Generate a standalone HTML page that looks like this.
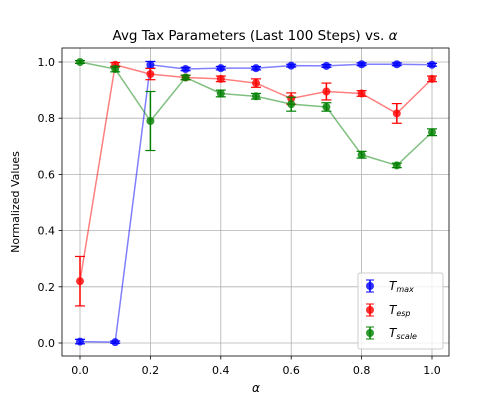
<!DOCTYPE html>
<html><head><meta charset="utf-8"><style>
body{margin:0;background:#fff;}
svg{font-family:"DejaVu Sans","Liberation Sans",sans-serif;}
</style></head><body>
<svg id="chart" width="500" height="400" viewBox="0 0 500 400"></svg>
<script>
const alphas=[0,0.1,0.2,0.3,0.4,0.5,0.6,0.7,0.8,0.9,1.0];
const tmax=[0.005,0.003,0.99,0.975,0.978,0.978,0.987,0.986,0.992,0.992,0.99];
const tmaxErr=[0.008,0.004,0.012,0.006,0.006,0.006,0.005,0.005,0.005,0.005,0.005];
const tesp=[0.22,0.99,0.957,0.945,0.94,0.925,0.87,0.895,0.888,0.817,0.94];
const tespErr=[0.088,0.008,0.02,0.008,0.01,0.015,0.02,0.03,0.01,0.035,0.01];
const tscale=[1.0,0.975,0.79,0.945,0.888,0.878,0.85,0.84,0.67,0.632,0.75];
const tscaleErr=[0.005,0.01,0.105,0.008,0.012,0.01,0.025,0.015,0.012,0.008,0.012];
const xTicks=[0,0.2,0.4,0.6,0.8,1.0];
const yTicks=[0,0.2,0.4,0.6,0.8,1.0];

const NS="http://www.w3.org/2000/svg";
const svg=document.getElementById('chart');
const L=62,R=449,T=48,B=356;
const xs=v=>80+v*352;
const ys=v=>343-v*281;
function mk(tag,attrs,parent){const e=document.createElementNS(NS,tag);for(const k in attrs)e.setAttribute(k,attrs[k]);(parent||svg).appendChild(e);return e;}

const grid=mk('g',{});


xTicks.forEach(t=>{
  mk('line',{x1:xs(t),x2:xs(t),y1:T,y2:B,stroke:'#b0b0b0','stroke-width':0.8},grid);
  mk('line',{x1:xs(t),x2:xs(t),y1:B,y2:B+3.5,stroke:'#000','stroke-width':0.8});
  const tx=mk('text',{x:xs(t),y:B+18,'text-anchor':'middle','font-size':11});
  tx.textContent=t.toFixed(1);
  
  
});
yTicks.forEach(t=>{
  mk('line',{x1:L,x2:R,y1:ys(t),y2:ys(t),stroke:'#b0b0b0','stroke-width':0.8},grid);
  mk('line',{x1:L-3.5,x2:L,y1:ys(t),y2:ys(t),stroke:'#000','stroke-width':0.8});
  const tx=mk('text',{x:L-7,y:ys(t)+4,'text-anchor':'end','font-size':11});
  tx.textContent=t.toFixed(1);
  
  
});

function series(vals,errs,color,name){
  const g=mk('g',{});
  
  
  mk('polyline',{points:alphas.map((a,i)=>xs(a)+','+ys(vals[i])).join(' '),fill:'none',stroke:color,'stroke-opacity':0.5,'stroke-width':1.5},g);
  alphas.forEach((a,i)=>{
    const x=xs(a),y1=ys(vals[i]-errs[i]),y2=ys(vals[i]+errs[i]);
    mk('line',{x1:x,x2:x,y1:y1,y2:y2,stroke:color,'stroke-width':1.5},g);
    mk('line',{x1:x-5,x2:x+5,y1:y1,y2:y1,stroke:color,'stroke-width':1.2},g);
    mk('line',{x1:x-5,x2:x+5,y1:y2,y2:y2,stroke:color,'stroke-width':1.2},g);
    const c=mk('circle',{cx:x,cy:ys(vals[i]),r:4,fill:color,'fill-opacity':0.8},g);
    
    
  });
}
series(tmax,tmaxErr,'#0000ff','series-tmax');
series(tesp,tespErr,'#ff0000','series-tesp');
series(tscale,tscaleErr,'#008000','series-tscale');

mk('rect',{x:L,y:T,width:R-L,height:B-T,fill:'none',stroke:'#000','stroke-width':0.8});
</script>
<svg width="500" height="400" style="position:absolute;left:0;top:0">
<text x="255" y="40" text-anchor="middle" font-size="13.5">Avg Tax Parameters (Last 100 Steps) vs. <tspan font-style="italic">α</tspan></text>
<text x="256" y="392" text-anchor="middle" font-size="12" font-style="italic">α</text>
<text x="19" y="202" text-anchor="middle" font-size="11" transform="rotate(-90 19 202)">Normalized Values</text>
<g>
<rect x="358" y="273" width="85" height="76" rx="2" fill="#fff" fill-opacity="0.8" stroke="#ccc"/>
<g>
<line x1="370" x2="370" y1="280" y2="292" stroke="#0000ff" stroke-width="1.5"/><line x1="366" x2="374" y1="280" y2="280" stroke="#0000ff"/><line x1="366" x2="374" y1="292" y2="292" stroke="#0000ff"/><circle cx="370" cy="286" r="4" fill="#0000ff" fill-opacity="0.8"/>
<text x="389" y="290" font-size="12" font-style="italic">T<tspan font-size="8" dy="2">max</tspan></text></g>
<g>
<line x1="370" x2="370" y1="304" y2="316" stroke="#ff0000" stroke-width="1.5"/><line x1="366" x2="374" y1="304" y2="304" stroke="#ff0000"/><line x1="366" x2="374" y1="316" y2="316" stroke="#ff0000"/><circle cx="370" cy="310" r="4" fill="#ff0000" fill-opacity="0.8"/>
<text x="389" y="314" font-size="12" font-style="italic">T<tspan font-size="8" dy="2">esp</tspan></text></g>
<g>
<line x1="370" x2="370" y1="327" y2="339" stroke="#008000" stroke-width="1.5"/><line x1="366" x2="374" y1="327" y2="327" stroke="#008000"/><line x1="366" x2="374" y1="339" y2="339" stroke="#008000"/><circle cx="370" cy="333" r="4" fill="#008000" fill-opacity="0.8"/>
<text x="389" y="337" font-size="12" font-style="italic">T<tspan font-size="8" dy="2">scale</tspan></text></g>
</g>
</svg>
</body></html>
